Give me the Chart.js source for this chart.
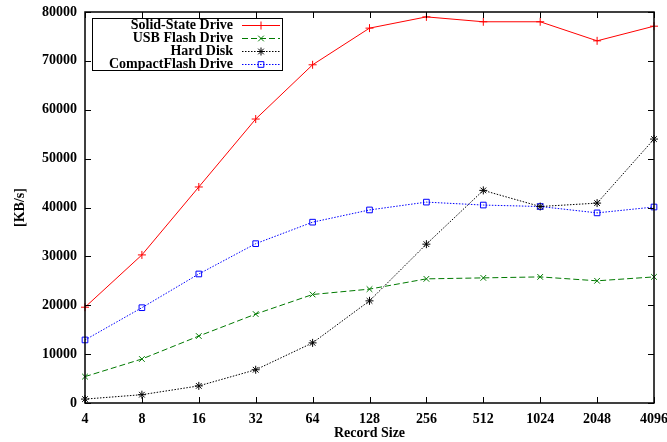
<!DOCTYPE html>
<html>
<head>
<meta charset="utf-8">
<script src="https://cdn.jsdelivr.net/npm/chart.js@4"></script>
<style>
  html, body { margin: 0; padding: 0; background: #fff; }
  #wrap { width: 667px; height: 442px; }
</style>
</head>
<body>
<div id="wrap"><canvas id="chart" width="667" height="442"></canvas></div>
<script>
// record sizes on the x axis
const recordSizes = ['4', '8', '16', '32', '64', '128', '256', '512', '1024', '2048', '4096'];

// throughput in KB/s
const ssdValues  = [19600, 30300, 44200, 58100, 69200, 76700, 79000, 78000, 78000, 74100, 77100];
const usbValues  = [5400, 9000, 13700, 18200, 22200, 23300, 25400, 25600, 25800, 25000, 25800];
const hddValues  = [800, 1700, 3500, 6800, 12300, 20900, 32500, 43500, 40200, 40900, 54000];
const cfValues   = [12900, 19500, 26400, 32600, 37000, 39500, 41100, 40500, 40200, 38900, 40100];

const yTicks = [0, 10000, 20000, 30000, 40000, 50000, 60000, 70000, 80000];

const serif = '"Liberation Serif", "DejaVu Serif", serif';

// frame with inward ticks on all four sides (gnuplot style)
const framePlugin = {
    id: 'frame',
    afterDatasetsDraw(chart) {
        const ctx = chart.ctx;
        const a = chart.chartArea;
        const xs = chart.scales.x;
        const ys = chart.scales.y;
        const t = 6;
        ctx.save();
        ctx.strokeStyle = '#000';
        ctx.lineWidth = 1;
        ctx.beginPath();
        recordSizes.forEach((lbl, i) => {
            const px = Math.round(xs.getPixelForValue(i)) + 0.5;
            ctx.moveTo(px, a.bottom); ctx.lineTo(px, a.bottom - t);
            ctx.moveTo(px, a.top); ctx.lineTo(px, a.top + t);
        });
        yTicks.forEach(v => {
            const py = Math.round(ys.getPixelForValue(v)) + 0.5;
            ctx.moveTo(a.left, py); ctx.lineTo(a.left + t, py);
            ctx.moveTo(a.right, py); ctx.lineTo(a.right - t, py);
        });
        ctx.stroke();
        ctx.lineWidth = 1.5;
        ctx.strokeRect(a.left, a.top, a.right - a.left, a.bottom - a.top);
        ctx.restore();
    }
};

// boxed legend, text right aligned and sample on the right
const legendPlugin = {
    id: 'boxLegend',
    afterDatasetsDraw(chart) {
        const ctx = chart.ctx;
        const boxL = 92, boxT = 18, boxR = 282, rowH = 13;
        const n = chart.data.datasets.length;
        ctx.save();
        ctx.font = 'bold 14px ' + serif;
        ctx.textAlign = 'right';
        ctx.textBaseline = 'middle';
        chart.data.datasets.forEach((ds, i) => {
            const y = boxT + 7 + i * rowH;
            ctx.fillStyle = '#000';
            ctx.fillText(ds.label, 233, y);
            ctx.strokeStyle = ds.borderColor;
            ctx.lineWidth = 1;
            ctx.setLineDash(ds.borderDash || []);
            ctx.beginPath();
            ctx.moveTo(242, y + 0.5);
            ctx.lineTo(280, y + 0.5);
            ctx.stroke();
            ctx.setLineDash([]);
            ctx.fillStyle = 'rgba(0,0,0,0)';
            Chart.helpers.drawPoint(ctx, {
                pointStyle: ds.pointStyle,
                radius: ds.pointRadius,
                borderWidth: 1,
                rotation: 0
            }, 261, y + 0.5);
        });
        ctx.strokeStyle = '#000';
        ctx.lineWidth = 1;
        ctx.strokeRect(boxL + 0.5, boxT + 0.5, boxR - boxL, 7 + (n - 1) * rowH + 6);
        ctx.restore();
    }
};

function makeSet(label, data, color, dash, style) {
    return {
        label: label,
        data: data,
        borderColor: color,
        backgroundColor: 'rgba(0,0,0,0)',
        pointBorderColor: color,
        pointBackgroundColor: 'rgba(0,0,0,0)',
        borderWidth: 1,
        borderDash: dash,
        pointStyle: style,
        pointRadius: 4,
        pointBorderWidth: 1,
        tension: 0,
        fill: false
    };
}

const ctx = document.getElementById('chart').getContext('2d');
new Chart(ctx, {
    type: 'line',
    data: {
        labels: recordSizes,
        datasets: [
            makeSet('Solid-State Drive', ssdValues, '#ff0000', [], 'cross'),
            makeSet('USB Flash Drive', usbValues, '#007a00', [6, 3], 'crossRot'),
            makeSet('Hard Disk', hddValues, '#000000', [1.5, 1.5], 'star'),
            makeSet('CompactFlash Drive', cfValues, '#0000ff', [1.5, 1.5], 'rect')
        ]
    },
    options: {
        responsive: false,
        animation: false,
        layout: { padding: { top: 12, right: 13, left: 0, bottom: 0 } },
        plugins: {
            legend: { display: false },
            tooltip: { enabled: false }
        },
        scales: {
            x: {
                type: 'category',
                offset: false,
                grid: { display: false, drawTicks: false },
                border: { display: false },
                ticks: {
                    color: '#000',
                    font: { family: serif, size: 14, weight: 'bold' },
                    padding: 8,
                    maxRotation: 0,
                    autoSkip: false
                },
                title: {
                    display: true,
                    text: 'Record Size',
                    color: '#000',
                    font: { family: serif, size: 14, weight: 'bold' },
                    padding: { top: 0, bottom: 0 }
                },
                afterFit(scale) {
                    scale.height = 39;
                    scale.paddingRight = 0;
                    scale.paddingLeft = 0;
                }
            },
            y: {
                min: 0,
                max: 80000,
                grid: { display: false, drawTicks: false },
                border: { display: false },
                ticks: {
                    stepSize: 10000,
                    color: '#000',
                    font: { family: serif, size: 14, weight: 'bold' },
                    padding: 8,
                    callback: v => String(v)
                },
                title: {
                    display: true,
                    text: '[KB/s]',
                    color: '#000',
                    font: { family: serif, size: 14, weight: 'bold' },
                    padding: { top: 12, bottom: 0 }
                },
                afterFit(scale) {
                    scale.width = 85;
                    scale.paddingTop = 0;
                    scale.paddingBottom = 0;
                }
            }
        }
    },
    plugins: [framePlugin, legendPlugin]
});
</script>
</body>
</html>
